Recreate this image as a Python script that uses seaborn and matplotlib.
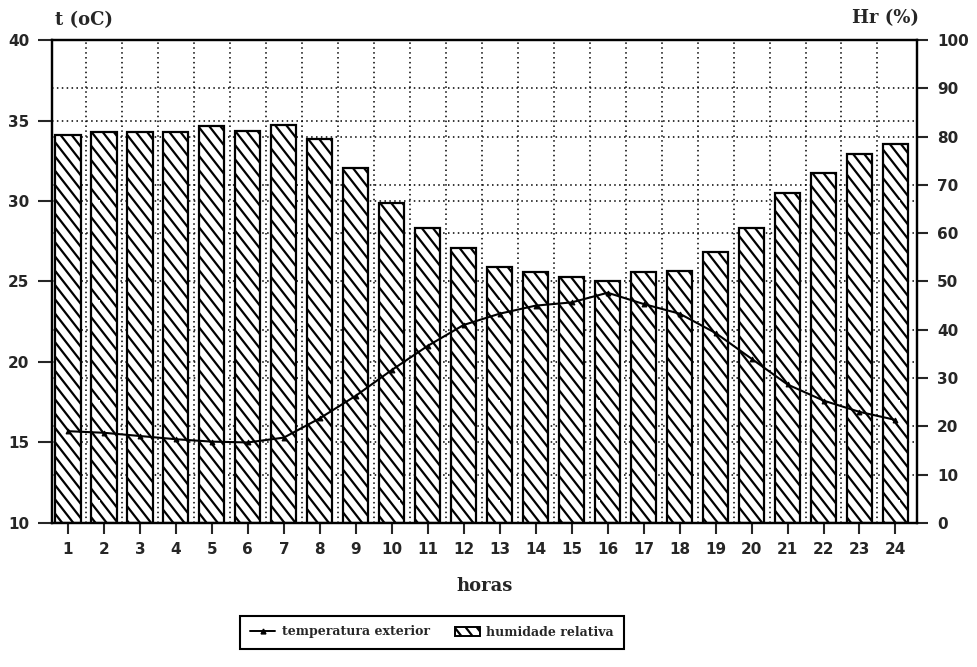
import numpy as np
import pandas as pd
import matplotlib
matplotlib.use("Agg")
import matplotlib.pyplot as plt
import matplotlib.hatch as mhatch
from matplotlib.path import Path
from matplotlib.ticker import FixedLocator
from matplotlib.lines import Line2D
from matplotlib.patches import Patch
import seaborn as sns

# ---- data ----
hours = list(range(1, 25))
temperatura = [15.7, 15.6, 15.4, 15.2, 15.05, 15.0, 15.3, 16.5, 17.9, 19.5, 21.0, 22.3,
               23.0, 23.5, 23.7, 24.3, 23.6, 23.0, 21.8, 20.2, 18.6, 17.6, 16.9, 16.4]
humidade = [80.3, 81.0, 81.0, 81.0, 82.2, 81.2, 82.3, 79.4, 73.5, 66.3, 61.0, 57.0,
            53.0, 52.0, 51.0, 50.2, 52.0, 52.1, 56.0, 61.1, 68.4, 72.5, 76.5, 78.5]
temp_ticks = [10, 15, 20, 25, 30, 35, 40]
hum_ticks = [0, 10, 20, 30, 40, 50, 60, 70, 80, 90, 100]

df = pd.DataFrame({"hora": hours, "temp": temperatura, "hum": humidade})


# steeper "\" hatch, closer to the original print
class SteepSouthEastHatch(mhatch.HatchPatternBase):
    def __init__(self, hatch, density):
        self.N = 9 if hatch.count("\\") else 0
        self.k = 7 if self.N else 0
        self.num_vertices = (self.N + self.k) * 2

    def set_vertices_and_codes(self, vertices, codes):
        N, k = self.N, self.k
        j = 0
        for i in range(-k, N):
            vertices[2 * j] = (i / N, 1.0)
            vertices[2 * j + 1] = ((i + k) / N, 0.0)
            codes[2 * j] = Path.MOVETO
            codes[2 * j + 1] = Path.LINETO
            j += 1


mhatch._hatch_types = [SteepSouthEastHatch if c is mhatch.SouthEastHatch else c
                       for c in mhatch._hatch_types]

sns.set_theme(style="white")
plt.rcParams["font.family"] = ["DejaVu Sans"]
plt.rcParams["hatch.linewidth"] = 1.6
plt.rcParams["hatch.color"] = "black"

fig = plt.figure(figsize=(9.77, 6.67), dpi=100)
ax = fig.add_axes([0.053, 0.216, 0.886, 0.724])

sns.barplot(data=df, x="hora", y="hum", ax=ax, color="white", saturation=1,
            edgecolor="black", linewidth=1.6, width=0.7, hatch="\\", zorder=2)
pos = np.arange(len(hours))

ax2 = ax.twinx()
sns.lineplot(x=pos, y=df["temp"], ax=ax2, color="black", lw=1.5, marker="^",
             markersize=3.5, markeredgecolor="black")

ax.set_ylim(0, 100)
ax.set_xlim(-0.45, len(hours) - 0.39)
ax.set_yticks(hum_ticks)
ax.set_xticks(pos, [str(h) for h in hours])
ax.set_ylabel("")
ax.set_xlabel("horas", fontsize=13, fontweight="bold", family="DejaVu Serif", labelpad=14)
ax.yaxis.tick_right()
ax.yaxis.set_label_position("right")

# grid
dot = (0, (1, 2.2))
ax.xaxis.set_minor_locator(FixedLocator(pos[:-1] + 0.5))
ax.yaxis.set_minor_locator(FixedLocator([(t - temp_ticks[0]) / (temp_ticks[-1] - temp_ticks[0]) * 100
                                         for t in temp_ticks]))
ax.grid(False)
ax.grid(which="minor", axis="x", ls=dot, color="black", lw=1.1)
ax.grid(which="major", axis="y", ls=dot, color="black", lw=1.1)
ax.grid(which="minor", axis="y", ls=dot, color="black", lw=1.1)
ax.set_axisbelow(True)
ax.tick_params(axis="x", which="major", direction="out", length=8, width=1.5,
               bottom=True, labelsize=11, pad=6)
ax.tick_params(axis="y", which="major", direction="out", length=8, width=1.5,
               right=True, left=False, labelright=True, labelleft=False, labelsize=11, pad=6)
ax.tick_params(which="minor", length=0)
for lab in ax.get_xticklabels() + ax.get_yticklabels():
    lab.set_fontweight("bold")

ax2.set_ylim(temp_ticks[0], temp_ticks[-1])
ax2.yaxis.tick_left()
ax2.yaxis.set_label_position("left")
ax2.set_yticks(temp_ticks)
ax2.set_ylabel("")
ax2.grid(False)
ax2.tick_params(axis="y", direction="out", length=10, width=1.5, left=True, right=False,
                labelleft=True, labelright=False, labelsize=11, pad=6)
for lab in ax2.get_yticklabels():
    lab.set_fontweight("bold")

for a in (ax, ax2):
    for s in a.spines.values():
        s.set_visible(True)
        s.set_color("black")
        s.set_linewidth(1.6)

fig.text(84 / 977, 1 - 20 / 667, "t (oC)", ha="center", va="center", fontsize=13,
         fontweight="bold", family="DejaVu Serif")
fig.text(885 / 977, 1 - 18 / 667, "Hr (%)", ha="center", va="center", fontsize=13,
         fontweight="bold", family="DejaVu Serif")

handles = [Line2D([], [], color="black", lw=1.4, marker="^", markersize=3.5),
           Patch(facecolor="white", edgecolor="black", hatch="\\", lw=1.4)]
leg = fig.legend(handles, ["temperatura exterior", "humidade relativa"], loc="center",
                 bbox_to_anchor=(432 / 977, 1 - 632 / 667), ncol=2, frameon=True,
                 fancybox=False, edgecolor="black", framealpha=1, columnspacing=2.0,
                 handlelength=2.0, handletextpad=0.5, borderpad=0.8,
                 prop={"family": "DejaVu Serif", "weight": "bold", "size": 9})
leg.get_frame().set_linewidth(1.5)

fig.savefig("out.png", dpi=100)
